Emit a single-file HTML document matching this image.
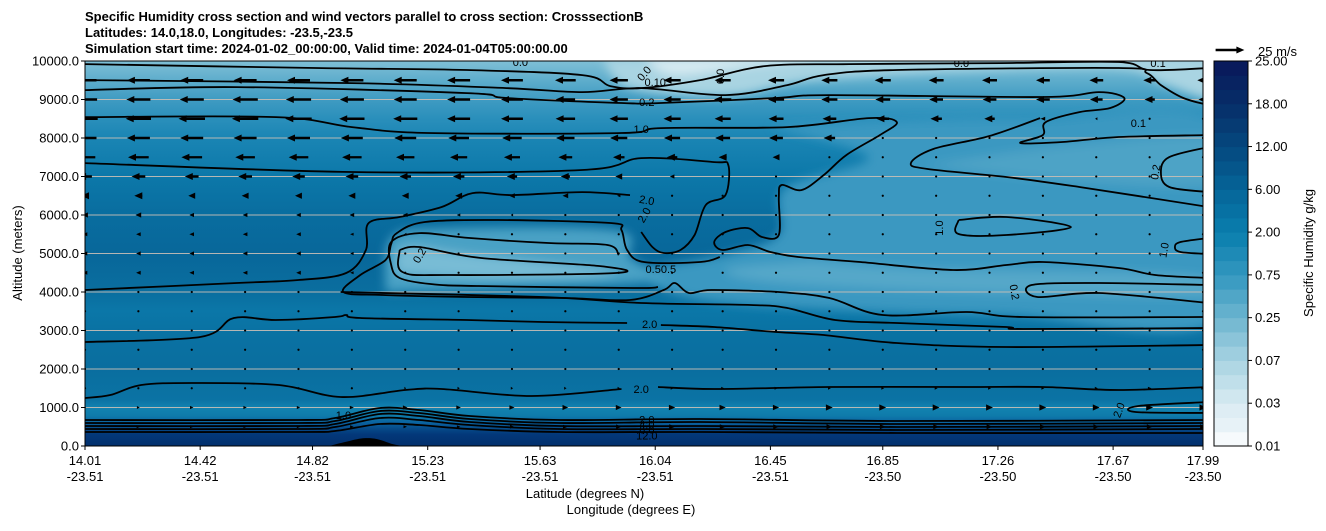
<!DOCTYPE html>
<html><head><meta charset="utf-8"><style>
html,body{margin:0;padding:0;background:#fff;}
svg text{font-family:"Liberation Sans",sans-serif;}
</style></head><body>
<svg id="chart" xmlns="http://www.w3.org/2000/svg" width="1326" height="526" viewBox="0 0 1326 526">
<defs>
<clipPath id="plotclip"><rect x="85" y="61" width="1118" height="385"/></clipPath>
<linearGradient id="bg" x1="0" y1="0" x2="0" y2="1">
<stop offset="0" stop-color="#7fbfd6"/><stop offset="0.05" stop-color="#5eadcc"/><stop offset="0.10" stop-color="#3f9bc2"/>
<stop offset="0.15" stop-color="#2a8fbb"/><stop offset="0.20" stop-color="#1a85b4"/><stop offset="0.30" stop-color="#0c78a9"/>
<stop offset="0.40" stop-color="#096d9f"/><stop offset="0.50" stop-color="#08679a"/><stop offset="0.60" stop-color="#0a6e9f"/>
<stop offset="0.65" stop-color="#0b77a8"/><stop offset="0.70" stop-color="#0a72a3"/><stop offset="0.80" stop-color="#0a6e9f"/>
<stop offset="0.88" stop-color="#0b73a4"/><stop offset="0.90" stop-color="#1282b0"/><stop offset="0.92" stop-color="#0f7cab"/>
<stop offset="0.94" stop-color="#0a62a0"/><stop offset="0.955" stop-color="#064a88"/><stop offset="0.97" stop-color="#03387a"/>
<stop offset="1" stop-color="#022f6c"/>
</linearGradient>
<filter id="soft" x="-10%" y="-10%" width="120%" height="120%"><feGaussianBlur stdDeviation="5"/></filter>
</defs>
<text x="85" y="21" font-size="13" font-weight="bold">Specific Humidity cross section and wind vectors parallel to cross section: CrosssectionB</text>
<text x="85" y="37" font-size="13" font-weight="bold">Latitudes: 14.0,18.0, Longitudes: -23.5,-23.5</text>
<text x="85" y="53" font-size="13" font-weight="bold">Simulation start time: 2024-01-02_00:00:00, Valid time: 2024-01-04T05:00:00.00</text>
<g id="plot" clip-path="url(#plotclip)">
<rect x="85" y="61" width="1118" height="385" fill="url(#bg)"/>
<g id="fills" filter="url(#soft)"></g>
<g id="grid"></g>
<g id="terrain"></g>
<g id="contours"></g>
<g id="winds"></g>
<g id="clabels"></g>
</g>
<rect x="85" y="61" width="1118" height="385" fill="none" stroke="#000" stroke-width="1"/>
<g id="yaxis"></g>
<g id="xaxis"></g>
<text transform="translate(22,253) rotate(-90)" text-anchor="middle" font-size="13">Altitude (meters)</text>
<text x="585" y="498" text-anchor="middle" font-size="13">Latitude (degrees N)</text>
<text x="631" y="514" text-anchor="middle" font-size="13">Longitude (degrees E)</text>
<g id="colorbar"></g>
<text transform="translate(1313,253) rotate(-90)" text-anchor="middle" font-size="13">Specific Humidity g/kg</text>
<g id="key"></g>
<text x="1258" y="56" font-size="13">25 m/s</text>
</svg>
<script>
// ---- axis data ----
const altTicks = [0,1000,2000,3000,4000,5000,6000,7000,8000,9000,10000];
const tickLats = [14.01,14.42,14.82,15.23,15.63,16.04,16.45,16.85,17.26,17.67,17.99];
const tickLons = ["-23.51","-23.51","-23.51","-23.51","-23.51","-23.51","-23.51","-23.50","-23.50","-23.50","-23.50"];
const cbarLabels = ["0.01","0.03","0.07","0.25","0.75","2.00","6.00","12.00","18.00","25.00"];
// ---- wind grid ----
const windLats = [14.01,14.20,14.39,14.58,14.77,14.96,15.15,15.34,15.53,15.72,15.91,16.10,16.28,16.47,16.66,16.85,17.04,17.23,17.42,17.61,17.80,17.99];
const windAlts = [500,1000,1500,2000,2500,3000,3500,4000,4500,5000,5500,6000,6500,7000,7500,8000,8500,9000,9500];
const windU = [
[2,3,3,3,3,3,3,3,3.5,4,4.5,5,5,5,5,5,5,5,5,5,5,5],
[2,2.5,3,3,3,3.5,4,4,4.5,5,5,5.5,5.5,5.5,6,6,6,6,6,6,6,6],
[0,0,0,0,0,1,1.5,2,2,2,2,2.5,2.5,2.5,2.5,2.5,2.5,2.5,2.5,2.5,3,3],
[0,0,0,0,0,0,0,0,0,0,0,0,0,0,0,0,0,0,0,0,0,0],
[0,0,0,0,0,0,0,0,0,0,0,0,0,0,0,0,0,0,0,0,0,0],
[0,0,0,0,0,0,0,0,0,0,0,0,0,0,0,0,0,0,0,0,0,0],
[0,0,0,0,0,0,0,0,0,0,0,0,0,0,0,0,0,0,0,0,0,0],
[-1,-1,-1,-1,-1,-1,0,0,0,0,0,0,0,0,0,0,0,0,0,0,0,0],
[-4,-4,-4,-4,-4,-3,-1,0,0,0,0,0,0,0,0,0,0,0,0,0,0,0],
[-4,-4,-4,-4,-4,-3,-1,-0.5,0,0,0,0,0,0,0,0,0,0,0,0,0,0],
[-4,-4,-4,-4,-4,-3,-2,-1,-1,0,0,0,0,0,0,0,0,0,0,0,0,0],
[-5,-5,-4,-4,-4,-4,-4,-3,-2,-1,-1,0,0,0,0,0,0,0,0,0,0,0],
[-7,-7,-6,-6,-6,-6,-6,-6,-5,-5,-3,-1,0,0,0,0,0,0,0,0,0,0],
[-12,-12,-12,-12,-11,-11,-10,-10,-9,-8,-6,-4,-1,0,0,0,0,0,0,0,0,0],
[-18,-18,-18,-17,-17,-17,-16,-15,-14,-12,-10,-9,-7,-6,-1,0,0,0,0,0,0,0],
[-20,-20,-20,-20,-20,-19,-19,-18,-17,-16,-15,-14,-13,-12,-10,-1,0,0,0,0,0,0],
[-22,-22,-23,-23,-23,-22,-21,-20,-19,-17,-16,-15,-14,-13,-12,-11,-10,-9,-4,-2,-1,-1],
[-21,-21,-21,-22,-22,-21,-20,-20,-19,-17,-16,-15,-15,-14,-14,-13,-12,-12,-12,-11,-9,-8],
[-20,-20,-20,-20,-20,-20,-20,-20,-19,-18,-16,-15,-14,-14,-14,-14,-13,-13,-12,-12,-11,-10]
];
const keySpeed = 25;
// ---- contour lines [lat, alt] ----
const contourLines = [
[[14.01,9920],[14.83,9817],[15.37,9765],[15.78,9635],[15.88,9349],[15.99,9297],[16.20,9505],[16.43,9868],[16.73,9920],[17.27,9946],[17.69,9973],[17.80,9765],[18.01,9817]],
[[14.01,9505],[14.96,9427],[15.51,9297],[15.78,9193],[15.99,9297],[16.29,9115],[16.51,9375],[16.64,9635],[16.90,9765],[17.69,9817],[17.79,9687],[17.84,9375],[17.92,9038],[18.01,8856]],
[[14.01,9245],[14.55,9323],[15.37,9167],[15.51,9038],[15.92,8908],[16.06,8908],[16.47,9038],[16.66,9115],[17.42,9064],[17.62,9193],[17.71,9038],[17.66,8778],[17.55,8674],[17.43,8414],[17.42,8077],[17.34,7869],[17.49,7895],[17.69,8025],[18.01,8077]],
[[14.01,8544],[14.69,8544],[14.96,8284],[15.23,8129],[15.92,8129],[16.06,8258],[16.51,8284],[16.80,8518],[16.90,8414],[16.84,8077],[16.72,7557],[16.64,7038],[16.56,6648],[16.49,6778],[16.48,6440],[16.48,5480],[16.42,5428],[16.37,5661],[16.29,5558],[16.25,5298],[16.28,5090],[16.37,5220],[16.45,5038],[16.55,4908],[16.77,4778],[17.10,4571],[17.29,4701],[17.42,4778],[17.69,4623],[17.82,4441],[18.01,4363]],
[[14.01,7349],[14.96,7116],[15.78,7168],[15.99,7479],[16.25,7375],[16.30,7297],[16.29,6518],[16.22,6259],[16.18,5480],[16.13,5090],[16.07,5012],[16.03,5168],[15.99,5558]],
[[14.01,4051],[14.55,4233],[14.77,4311],[14.94,4493],[15.01,5090],[15.02,5791],[15.13,5947],[15.28,6207],[15.39,6570],[15.53,6518],[15.78,6596],[15.95,6518]],
[[16.27,4908],[16.20,4778],[16.00,4778],[15.94,5090],[15.92,5609],[15.88,5791],[15.48,5869],[15.22,5817],[15.12,5531],[15.10,5246],[15.08,4831],[14.99,4441],[14.93,3999],[15.07,3921],[15.37,3869],[15.72,3843],[15.95,3791],[16.07,4051],[16.11,4233],[16.16,3973],[16.24,4051],[16.48,3999],[16.66,3843],[16.85,3402],[17.15,3480],[17.35,3350],[18.01,3350]],
[[15.91,4960],[15.87,5220],[15.66,5272],[15.38,5402],[15.20,5531],[15.10,5298],[15.10,4701],[15.13,4363],[15.24,4207],[15.41,4155],[15.96,4103],[16.05,4129]],
[[15.13,5090],[15.14,4519],[15.31,4441],[15.90,4493],[15.84,4675],[15.42,4882],[15.20,5168],[15.13,5090]],
[[14.92,3999],[15.64,3869],[15.99,3714],[16.38,3662],[16.51,3584],[16.68,3272],[16.90,3194],[17.29,3090],[17.35,3038],[18.01,3064]],
[[14.01,2701],[14.42,2831],[14.54,3324],[14.69,3272],[14.90,3350],[14.94,3402],[14.99,3324],[15.37,3272],[15.64,3220],[15.94,3194]],
[[16.06,3142],[16.25,3090],[16.47,2960],[16.64,2882],[16.90,2675],[17.29,2571],[18.01,2623]],
[[14.01,1246],[14.10,1324],[14.21,1584],[14.39,1636],[14.70,1584],[14.92,1272],[15.15,1454],[15.28,1480],[15.60,1298],[15.92,1480]],
[[16.05,1532],[16.25,1480],[16.66,1532],[17.15,1532],[17.42,1532],[17.69,1454],[18.01,1532]],
[[17.12,5869],[17.29,5947],[17.52,5687],[17.29,5480],[17.12,5506],[17.12,5869]],
[[18.01,6207],[17.55,6726],[17.29,6986],[17.01,7194],[16.95,7349],[17.03,7713],[17.23,8051],[17.41,8518]],
[[18.01,7765],[17.87,7505],[17.84,7116],[17.87,6726],[18.01,6596]],
[[18.01,5402],[17.91,5298],[17.89,5168],[17.91,5038],[18.01,4986]],
[[18.01,4181],[17.62,4233],[17.38,4181],[17.40,3869],[17.62,3973],[18.01,3714]],
[[18.01,1143],[17.76,1039],[17.75,883],[18.01,857]]
];
const groundLats = [14.01,14.77,14.90,15.06,15.20,15.38,15.70,16.20,16.90,18.01];
const groundLines = [
[675,675,727,987,935,779,675,701,649,675],
[597,597,649,909,857,701,597,623,571,597],
[519,519,571,831,779,623,519,519,493,519],
[441,441,493,727,675,545,441,441,415,441],
[364,364,390,571,545,441,364,364,338,338]
];
const terrainLats = [14.88,14.94,15.00,15.05,15.10,15.14];
const terrainAlts = [0,110,200,180,60,0];
// contour labels: text, lat, alt, rotation
const labelText = ["0.2","1.0","2.0","2.0","0.50.5","2.0","2.0","2.0","4.0","6.0","12.0","1.0","0.1","0.2","1.0","0.2","1.0","2.0","0.0","0.0","0.10","0.0","0.0","0.1","0.2"];
const labelLat  = [16.01,15.99,16.01,16.00,16.06,16.02,15.99,16.01,16.01,16.01,16.01,14.93,17.76,17.82,17.85,17.32,17.05,17.69,15.56,16.00,16.04,16.27,17.13,17.83,15.20];
const labelAlt  = [8934,8232,6389,6000,4597,3168,1480,690,560,430,275,805,8388,7116,5090,4000,5661,935,9973,9680,9450,9600,9950,9950,4950];
const labelRot  = [0,0,10,-60,0,0,0,0,0,0,0,0,0,-80,-80,80,-90,-70,0,-50,0,-90,0,0,-60];
// background humidity regions (lat, alt) and fill colours
const fillColors = ["#3b98c1","#55a7c9","#4ea3c6","#4aa1c5","#78bcd5","#a9d4e2","#d6eaf1"];
const fillRegions = [
[[16.45,8300],[16.9,8450],[17.4,8500],[18.05,8300],[18.05,3300],[17.3,3400],[16.8,3500],[16.2,3800],[16.0,4500],[16.3,5000],[16.48,5500],[16.5,6700],[16.8,7500]],
[[16.6,4800],[17.0,4600],[17.8,4500],[18.05,4300],[18.05,3900],[17.4,3950],[16.8,4100],[16.4,4300],[16.3,4600]],
[[17.0,7300],[17.5,7800],[18.05,8000],[18.05,6800],[17.5,6900]],
[[15.08,4000],[15.1,5400],[15.3,5650],[15.9,5600],[15.95,4900],[16.05,4300],[15.5,4100]],
[[15.12,4500],[15.15,5150],[15.4,4950],[15.9,4500],[15.5,4350]],
[[15.85,10100],[15.95,9300],[16.3,9100],[16.6,9500],[17.2,9750],[17.7,9800],[17.85,9400],[18.05,9000],[18.05,10100]],
[[16.0,10100],[16.1,9650],[16.35,9850],[16.6,10100]]
];
// ---- scales ----
const X0=85,X1=1203,Y0=446,Y1=61,LATMIN=14.01,LATMAX=17.99,ALTMAX=10000;
function X(lat){return X0+(lat-LATMIN)/(LATMAX-LATMIN)*(X1-X0);}
function Y(alt){return Y0-alt/ALTMAX*(Y0-Y1);}
const PXPERMS = 1.15;
const NS="http://www.w3.org/2000/svg";
function mk(tag,attrs,parent){const e=document.createElementNS(NS,tag);for(const k in attrs)e.setAttribute(k,attrs[k]);parent.appendChild(e);return e;}
function smooth(pts){
 if(pts.length<2)return "";
 let d="M"+pts[0][0].toFixed(1)+","+pts[0][1].toFixed(1);
 for(let i=0;i<pts.length-1;i++){
  const p0=pts[i-1]||pts[i],p1=pts[i],p2=pts[i+1],p3=pts[i+2]||p2;
  const c1=[p1[0]+(p2[0]-p0[0])/6,p1[1]+(p2[1]-p0[1])/6];
  const c2=[p2[0]-(p3[0]-p1[0])/6,p2[1]-(p3[1]-p1[1])/6];
  d+=" C"+c1[0].toFixed(1)+","+c1[1].toFixed(1)+" "+c2[0].toFixed(1)+","+c2[1].toFixed(1)+" "+p2[0].toFixed(1)+","+p2[1].toFixed(1);
 }
 return d;
}
// fills
const gF=document.getElementById('fills');
fillRegions.forEach((reg,i)=>{
 const p=mk('path',{d:smooth(reg.map(q=>[X(q[0]),Y(q[1])]).concat([[X(reg[0][0]),Y(reg[0][1])]]))+"Z",fill:fillColors[i]},gF);
 
 
});
// grid
const gG=document.getElementById('grid');
altTicks.forEach(a=>{ if(a>0&&a<ALTMAX){
 const l=mk('line',{x1:X0,x2:X1,y1:Y(a),y2:Y(a),stroke:"#c9bfb6","stroke-width":1,opacity:0.9},gG);
 
 
}});
// terrain
const gT=document.getElementById('terrain');
const tp=mk('path',{d:smooth(terrainLats.map((l,i)=>[X(l),Y(terrainAlts[i])]))+" L"+X(terrainLats[terrainLats.length-1])+","+Y0+" L"+X(terrainLats[0])+","+Y0+"Z",fill:"#000"},gT);


// contours
const gC=document.getElementById('contours');
contourLines.forEach(line=>{
 const p=mk('path',{d:smooth(line.map(q=>[X(q[0]),Y(q[1])])),fill:"none",stroke:"#000","stroke-width":1.8,"stroke-linejoin":"round"},gC);
 
 
});
groundLines.forEach(vals=>{
 const p=mk('path',{d:smooth(groundLats.map((l,i)=>[X(l),Y(vals[i])])),fill:"none",stroke:"#000","stroke-width":1.8},gC);
 
 
});
// labels
const gL=document.getElementById('clabels');
labelText.forEach((t,i)=>{
 const x=X(labelLat[i]),y=Y(labelAlt[i]);
 const e=mk('text',{x:x,y:y+4,"font-size":11,"text-anchor":"middle",transform:"rotate("+labelRot[i]+" "+x+" "+y+")",fill:"#000"},gL);
 e.textContent=t;
 
 
});
// arrows
function arrow(parent,cx,cy,u){
 const len=Math.abs(u)*PXPERMS, dir=u<0?-1:1;
 if(len<1.5){
  const c=mk('circle',{cx:cx,cy:cy,r:1.1,fill:"#000"},parent);
  return c;
 }
 const w=2.4, hl=Math.min(8,len), hw=Math.min(7,Math.max(3,len*0.9))/2;
 const tail=cx-dir*len/2, tip=cx+dir*len/2, hb=tip-dir*hl;
 const pts=[[tail,cy-w/2],[hb,cy-w/2],[hb,cy-hw],[tip,cy],[hb,cy+hw],[hb,cy+w/2],[tail,cy+w/2]];
 return mk('polygon',{points:pts.map(p=>p[0].toFixed(1)+","+p[1].toFixed(1)).join(" "),fill:"#000"},parent);
}
const gW=document.getElementById('winds');
windAlts.forEach((a,r)=>{windLats.forEach((l,c)=>{
 const e=arrow(gW,X(l),Y(a),windU[r][c]);
 
 
});});
const gK=document.getElementById('key');
const ke=arrow(gK,1230,50,keySpeed);


// y axis
const gY=document.getElementById('yaxis');
altTicks.forEach(a=>{
 const t=mk('line',{x1:X0-4,x2:X0,y1:Y(a),y2:Y(a),stroke:"#000"},gY);
 
 
 const e=mk('text',{x:X0-6,y:Y(a)+4.5,"text-anchor":"end","font-size":13},gY);
 e.textContent=a.toFixed(1);
 
 
});
// x axis
const gX=document.getElementById('xaxis');
tickLats.forEach((l,i)=>{
 const x=X(l);
 const t=mk('line',{x1:x,x2:x,y1:Y0,y2:Y0+4,stroke:"#000"},gX);
 
 
 const e=mk('text',{x:x,y:465,"text-anchor":"middle","font-size":13},gX);
 e.textContent=l.toFixed(2);
 
 
 const e2=mk('text',{x:x,y:481,"text-anchor":"middle","font-size":13},gX);
 e2.textContent=tickLons[i];
 
 
});
// colorbar
const gB=document.getElementById('colorbar');
const anchors=[[0,[246,250,252]],[0.11,[217,235,242]],[0.22,[169,211,226]],[0.33,[111,182,208]],[0.44,[53,152,192]],[0.55,[10,127,174]],[0.66,[5,102,154]],[0.77,[5,74,128]],[0.88,[6,48,106]],[1,[10,23,89]]];
function cmap(t){for(let i=0;i<anchors.length-1;i++){const a=anchors[i],b=anchors[i+1];if(t<=b[0]){const f=(t-a[0])/(b[0]-a[0]);return "rgb("+a[1].map((v,k)=>Math.round(v+(b[1][k]-v)*f)).join(",")+")";}}return "rgb(10,23,89)";}
const CB_X=1214,CB_W=34,NB=27;
for(let i=0;i<NB;i++){
 const y1=Y0-(i+1)*(Y0-Y1)/NB, h=(Y0-Y1)/NB;
 const r=mk('rect',{x:CB_X,y:y1,width:CB_W,height:h+0.5,fill:cmap(i===0?0:(i+0.5)/NB)},gB);
 
 
}
const fr=mk('rect',{x:CB_X,y:Y1,width:CB_W,height:Y0-Y1,fill:"none",stroke:"#000"},gB);


cbarLabels.forEach((s,i)=>{
 const y=Y0-i*(Y0-Y1)/(cbarLabels.length-1);
 const t=mk('line',{x1:CB_X+CB_W,x2:CB_X+CB_W+4,y1:y,y2:y,stroke:"#000"},gB);
 
 
 const e=mk('text',{x:CB_X+CB_W+7,y:y+4.5,"font-size":13},gB);
 e.textContent=s;
 
 
});
</script>
</body></html>
